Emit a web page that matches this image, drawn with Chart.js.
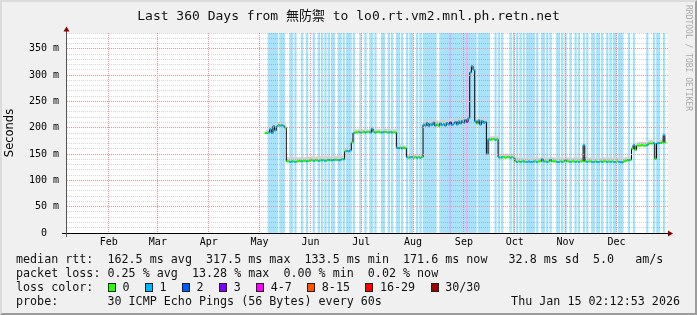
<!DOCTYPE html>
<html>
<head>
<meta charset="utf-8">
<script src="https://cdn.jsdelivr.net/npm/chart.js@4.4.1/dist/chart.umd.min.js"></script>
<style>
    html, body { margin: 0; padding: 0; }
    body { width: 697px; height: 315px; position: relative; overflow: hidden; background: #f0f0f0; font-family: 'DejaVu Sans Mono', monospace; color: #111; }
    canvas { position: absolute; left: 0; top: 0; }
    #frame { position: absolute; left: 0; top: 0; width: 697px; height: 315px; box-sizing: border-box; border: 2px solid; border-color: #dcdcdc #9c9c9c #9c9c9c #dcdcdc; }
    #title { position: absolute; left: 0; top: 8px; width: 697px; text-align: center; font-size: 13px; line-height: 16px; white-space: pre; font-family: 'DejaVu Sans Mono', 'Noto Sans CJK JP', monospace; }
    #rrd { position: absolute; left: 684px; top: 5px; writing-mode: vertical-rl; font-size: 8px; line-height: 9px; color: #a8a8a8; white-space: pre; }
    .row { position: absolute; left: 16px; font-size: 11.7px; line-height: 14px; white-space: pre; }
    #lossKey { position: absolute; left: 108px; top: 280px; height: 14px; display: flex; align-items: center; font-size: 11.7px; white-space: pre; }
    #lossKey .box { width: 6px; height: 7px; border: 1px solid #222; margin-right: 6.5px; }
    #lossKey .lbl { margin-right: 15.5px; }
    #stamp { position: absolute; right: 17px; top: 294px; font-size: 11.7px; line-height: 14px; white-space: pre; }
</style>
</head>
<body>
<canvas id="smoke" width="697" height="315"></canvas>
<div id="frame"></div>
<div id="title">Last 360 Days from 無防禦 to lo0.rt.vm2.mnl.ph.retn.net</div>
<div id="rrd">RRDTOOL / TOBI OETIKER</div>
<div class="row" style="top:252px">median rtt:  162.5 ms avg  317.5 ms max  133.5 ms min  171.6 ms now   32.8 ms sd  5.0   am/s</div>
<div class="row" style="top:266px">packet loss: 0.25 % avg  13.28 % max  0.00 % min  0.02 % now</div>
<div class="row" style="top:280px">loss color:</div>
<div id="lossKey"></div>
<div class="row" style="top:294px">probe:       30 ICMP Echo Pings (56 Bytes) every 60s</div>
<div id="stamp">Thu Jan 15 02:12:53 2026</div>
<script>
// day 0 = Jan 21 2025, graph is 360 days wide
const Y_MAX = 380;
const X_MAX = 360.4;
const firstDay = 119;

const monthNames = ['Feb', 'Mar', 'Apr', 'May', 'Jun', 'Jul', 'Aug', 'Sep', 'Oct', 'Nov', 'Dec'];
const monthStartDays = [11, 39, 70, 100, 131, 161, 192, 223, 253, 284, 314, 345];
const yLabelValues = [0, 50, 100, 150, 200, 250, 300, 350];

// median rtt per day (ms), from firstDay on
const medianMs = [
    190, 190, 191, 197, 190, 203, 195, 202, 205, 204, 205, 203, 200, 136, 136, 135, 136, 136, 135, 136,
    136, 137, 136, 137, 137, 136, 137, 138, 138, 137, 138, 138, 137, 138, 138, 138, 137, 138, 139, 138,
    138, 139, 139, 139, 138, 139, 140, 140, 155, 156, 155, 157, 172, 190, 191, 191, 192, 191, 191, 192,
    191, 192, 192, 191, 198, 192, 191, 192, 192, 191, 191, 192, 192, 191, 191, 192, 191, 191, 191, 162,
    161, 162, 161, 162, 161, 144, 143, 144, 144, 143, 144, 143, 144, 143, 144, 206, 204, 209, 203, 207,
    205, 210, 204, 206, 203, 208, 205, 207, 204, 209, 206, 210, 205, 208, 211, 206, 212, 208, 213, 209,
    215, 211, 218, 305, 317, 310, 212, 208, 214, 206, 213, 209, 211, 150, 178, 177, 178, 178, 177, 178,
    144, 143, 144, 144, 143, 144, 144, 143, 144, 143, 136, 135, 136, 135, 136, 136, 135, 135, 136, 135,
    135, 136, 136, 135, 136, 136, 140, 136, 136, 135, 136, 139, 136, 136, 136, 135, 135, 136, 135, 136,
    138, 136, 136, 135, 136, 136, 135, 136, 135, 136, 136, 167, 136, 135, 136, 136, 135, 135, 136, 135,
    135, 136, 135, 136, 136, 135, 136, 135, 136, 135, 135, 136, 135, 135, 134, 136, 137, 138, 138, 139,
    160, 167, 158, 166, 166, 166, 167, 166, 166, 167, 170, 170, 170, 171, 141, 170, 171, 171, 172, 186,
    172
];

// height of the smoke above the median (ms)
const smokeSpreadMs = [
    6, 6, 6, 7, 6, 6, 7, 6, 6, 6, 5, 6, 6, 8, 8, 8, 7, 8, 8, 8,
    8, 7, 8, 8, 7, 8, 8, 7, 8, 8, 7, 8, 8, 8, 7, 8, 8, 8, 7, 8,
    8, 7, 8, 8, 7, 8, 7, 7, 6, 6, 6, 6, 8, 6, 6, 5, 6, 6, 6, 5,
    6, 6, 5, 6, 4, 6, 6, 5, 6, 6, 6, 5, 6, 6, 6, 5, 6, 6, 6, 5,
    5, 6, 5, 5, 5, 6, 6, 5, 6, 6, 5, 6, 6, 5, 6, 8, 9, 7, 9, 8,
    9, 7, 9, 8, 9, 8, 9, 8, 9, 7, 9, 8, 9, 8, 7, 9, 8, 9, 8, 9,
    7, 9, 8, 10, 6, 8, 9, 8, 7, 9, 8, 8, 9, 10, 6, 7, 6, 6, 7, 6,
    7, 7, 6, 7, 7, 7, 6, 7, 7, 7, 8, 8, 8, 8, 7, 8, 8, 8, 7, 8,
    8, 7, 8, 8, 7, 8, 6, 8, 8, 8, 7, 6, 8, 8, 7, 8, 8, 8, 8, 7,
    7, 8, 8, 8, 7, 8, 8, 8, 8, 8, 7, 5, 8, 8, 7, 8, 8, 8, 7, 8,
    8, 7, 8, 8, 7, 8, 8, 8, 7, 8, 8, 7, 8, 8, 9, 7, 7, 7, 7, 6,
    6, 5, 7, 6, 7, 7, 6, 7, 7, 6, 6, 7, 6, 6, 6, 7, 6, 6, 6, 4,
    6
];

// lost pings (of 30) per day
const lostPings = [
    0, 0, 1, 1, 1, 1, 1, 1, 0, 1, 1, 1, 0, 0, 0, 1, 1, 0, 1, 0,
    0, 0, 1, 0, 0, 1, 0, 0, 0, 1, 0, 0, 1, 0, 1, 0, 1, 0, 1, 0,
    1, 1, 0, 0, 1, 1, 0, 1, 0, 1, 1, 1, 0, 1, 0, 0, 0, 1, 0, 0,
    1, 0, 0, 1, 1, 0, 1, 0, 0, 0, 1, 1, 0, 0, 1, 0, 1, 0, 0, 1,
    1, 0, 1, 0, 0, 1, 0, 1, 1, 0, 0, 1, 0, 1, 0, 1, 1, 1, 1, 1,
    1, 1, 1, 0, 0, 1, 1, 1, 1, 1, 1, 3, 1, 1, 1, 1, 1, 1, 1, 1,
    1, 5, 1, 1, 1, 1, 1, 0, 1, 1, 1, 1, 1, 1, 1, 0, 0, 0, 1, 0,
    1, 0, 1, 0, 0, 0, 0, 1, 0, 1, 0, 1, 0, 1, 0, 1, 0, 1, 1, 1,
    1, 1, 0, 1, 0, 0, 1, 1, 0, 1, 0, 1, 0, 0, 0, 1, 1, 0, 1, 0,
    1, 0, 0, 1, 0, 0, 1, 0, 1, 0, 0, 1, 0, 1, 0, 0, 1, 1, 0, 1,
    1, 0, 1, 0, 0, 1, 0, 1, 0, 1, 1, 0, 1, 1, 1, 0, 0, 0, 1, 0,
    0, 1, 0, 0, 0, 0, 0, 0, 0, 1, 0, 0, 0, 1, 0, 1, 1, 0, 0, 1,
    0
];

const lossLevels = ['0', '1', '2', '3', '4-7', '8-15', '16-29', '30/30'];
const lossColors = ['#26ff00', '#00b8ff', '#0059ff', '#7e00ff', '#ff00ff', '#ff5500', '#ff0000', '#a10000'];
const lossBandColors = ['#ffffff', '#a8e2fb', '#a8c2ff', '#cfb4fb', '#f4aef4', '#ffc4a8', '#ffa8a8', '#dca8a8'];

function lossLevel(n) {
    if (n <= 3) return n;
    if (n <= 7) return 4;
    if (n <= 15) return 5;
    if (n <= 29) return 6;
    return 7;
}

// legend boxes
const key = document.getElementById('lossKey');
lossLevels.forEach(function (txt, i) {
    const b = document.createElement('span');
    b.className = 'box';
    b.style.background = lossColors[i];
    const l = document.createElement('span');
    l.className = 'lbl';
    l.textContent = txt;
    key.appendChild(b);
    key.appendChild(l);
});

const medianPts = [], smokePts = [], pointColors = [], bandPts = [], bandColors = [];
medianMs.forEach(function (v, i) {
    const d = firstDay + i;
    const lvl = lossLevel(lostPings[i]);
    medianPts.push({ x: d, y: v });
    smokePts.push({ x: d, y: v + smokeSpreadMs[i] });
    pointColors.push(lossColors[lvl]);
    if (lvl > 0) {
        bandPts.push({ x: d, y: Y_MAX });
        bandColors.push(lossBandColors[lvl]);
    }
});

const minorGrid = 'rgba(0,0,0,0.16)';
const majorGrid = '#e89494';
const monoFont = { family: 'DejaVu Sans Mono', size: 10 };

const frame = {
    id: 'frame',
    beforeDraw(chart) {
        const { ctx, chartArea: a } = chart;
        ctx.save();
        ctx.fillStyle = '#ffffff';
        ctx.fillRect(a.left, a.top, a.right - a.left, a.bottom - a.top);
        ctx.restore();
    },
    afterDraw(chart) {
        const { ctx, chartArea: a } = chart;
        ctx.save();
        ctx.lineWidth = 1;
        ctx.strokeStyle = '#000';
        ctx.beginPath();
        ctx.moveTo(a.left - 5, a.bottom + 0.5);
        ctx.lineTo(a.right + 2, a.bottom + 0.5);
        ctx.stroke();
        ctx.strokeStyle = '#555';
        ctx.beginPath();
        ctx.moveTo(a.left - 0.5, a.bottom + 4);
        ctx.lineTo(a.left - 0.5, a.top - 3);
        ctx.stroke();
        ctx.fillStyle = '#8a0000';
        ctx.beginPath();
        ctx.moveTo(a.left - 3.5, a.top - 1.5);
        ctx.lineTo(a.left + 2.5, a.top - 1.5);
        ctx.lineTo(a.left - 0.5, a.top - 6.5);
        ctx.closePath();
        ctx.fill();
        ctx.beginPath();
        ctx.moveTo(a.right, a.bottom - 2.5);
        ctx.lineTo(a.right, a.bottom + 3.5);
        ctx.lineTo(a.right + 5, a.bottom + 0.5);
        ctx.closePath();
        ctx.fill();
        ctx.restore();
    }
};

function createChart() {
    const ctx = document.getElementById('smoke').getContext('2d');
    new Chart(ctx, {
        type: 'line',
        data: {
            datasets: [
                {
                    data: medianPts,
                    xAxisID: 'x',
                    showLine: false,
                    pointStyle: 'line',
                    pointRadius: 0.9,
                    pointBorderWidth: 2,
                    pointBorderColor: pointColors,
                    pointBackgroundColor: pointColors
                },
                {
                    data: medianPts,
                    xAxisID: 'x',
                    stepped: 'middle',
                    borderColor: '#000',
                    borderWidth: 1,
                    pointRadius: 0,
                    fill: false
                },
                {
                    data: smokePts,
                    xAxisID: 'x',
                    stepped: 'middle',
                    borderWidth: 0,
                    borderColor: 'rgba(0,0,0,0)',
                    backgroundColor: '#d2d2d2',
                    pointRadius: 0,
                    fill: 1
                },
                {
                    type: 'bar',
                    data: bandPts,
                    xAxisID: 'x',
                    backgroundColor: bandColors,
                    borderWidth: 0,
                    categoryPercentage: 1,
                    barPercentage: 1
                }
            ]
        },
        options: {
            responsive: false,
            animation: false,
            devicePixelRatio: 1,
            events: [],
            layout: { padding: { top: 33, right: 29, bottom: 0, left: 0 } },
            plugins: {
                legend: { display: false },
                tooltip: { enabled: false }
            },
            scales: {
                x: {
                    type: 'linear',
                    position: 'bottom',
                    min: 0,
                    max: X_MAX,
                    offset: false,
                    afterBuildTicks: function (s) { s.ticks = monthStartDays.map(v => ({ value: v })); },
                    afterFit: function (s) { s.height = 0; },
                    grid: { color: majorGrid, lineWidth: 1, drawTicks: false, z: 1 },
                    border: { display: false, dash: [1, 1] },
                    ticks: { display: false }
                },
                xm: {
                    type: 'linear',
                    position: 'bottom',
                    min: 0,
                    max: X_MAX,
                    offset: false,
                    afterBuildTicks: function (s) {
                        s.ticks = monthNames.map((n, i) => ({ value: (monthStartDays[i] + monthStartDays[i + 1]) / 2 }));
                    },
                    afterFit: function (s) { s.height = 82; },
                    grid: { display: false, drawTicks: false },
                    border: { display: false },
                    ticks: {
                        autoSkip: false,
                        maxRotation: 0,
                        padding: 3,
                        font: monoFont,
                        color: '#000',
                        callback: (v, i) => monthNames[i]
                    }
                },
                y: {
                    min: 0,
                    max: Y_MAX,
                    afterFit: function (s) { s.width = 67; },
                    ticks: {
                        stepSize: 10,
                        autoSkip: false,
                        padding: 8,
                        font: monoFont,
                        color: '#000',
                        callback: function (v) {
                            if (!yLabelValues.includes(v)) return '';
                            return v === 0 ? '0  ' : v + ' m';
                        }
                    },
                    grid: {
                        color: c => (c.tick && c.tick.value % 50 === 0) ? majorGrid : minorGrid,
                        lineWidth: 1,
                        drawTicks: false,
                        z: 1
                    },
                    border: { display: false, dash: [1, 1] },
                    title: {
                        display: true,
                        text: 'Seconds',
                        color: '#000',
                        font: { family: 'DejaVu Sans', size: 11.5 },
                        padding: { top: 3, bottom: 0 }
                    }
                }
            }
        },
        plugins: [frame]
    });
}

document.addEventListener("DOMContentLoaded", function () {
    createChart();
});
</script>
</body>
</html>
